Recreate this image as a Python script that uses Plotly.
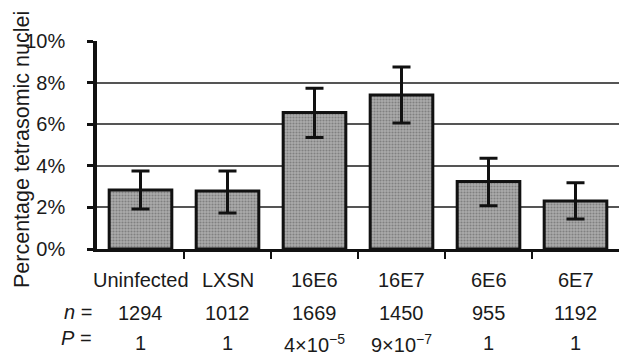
import plotly.graph_objects as go

categories = ["Uninfected", "LXSN", "16E6", "16E7", "6E6", "6E7"]
percent = [2.84, 2.79, 6.56, 7.40, 3.24, 2.31]
err_plus = [0.91, 0.96, 1.17, 1.35, 1.12, 0.88]
err_minus = [0.92, 1.06, 1.20, 1.34, 1.16, 0.87]
n_values = ["1294", "1012", "1669", "1450", "955", "1192"]
p_values = ["1", "1", "4×10<sup>−5</sup>", "9×10<sup>−7</sup>", "1", "1"]
y_ticks = [0, 2, 4, 6, 8, 10]
y_ticktext = ["0%", "2%", "4%", "6%", "8%", "10%"]

FONT = "Liberation Sans, Arial, sans-serif"
TXT = "#1a1a1a"

pos = list(range(len(categories)))
boundaries = [i + 0.5 for i in pos[:-1]]

fig = go.Figure()
fig.add_trace(go.Bar(
    x=pos, y=percent,
    marker=dict(color="#a0a0a0", line=dict(color="#111111", width=3),
                pattern=dict(shape=".", fgcolor="#808080", bgcolor="#ababab",
                             size=3, solidity=0.4, fillmode="replace")),
    error_y=dict(type="data", symmetric=False, array=err_plus, arrayminus=err_minus,
                 color="#111111", thickness=3, width=9),
    showlegend=False, hovertext=categories,
))

def ann(x, yshift, text, xref="x", xanchor="center", xshift=0, size=20):
    return dict(x=x, xref=xref, xshift=xshift, y=0, yref="y", yshift=yshift, text=text,
                showarrow=False, xanchor=xanchor, yanchor="middle",
                font=dict(size=size, color=TXT, family=FONT))

annotations = []
for i, lab, n, p in zip(pos, categories, n_values, p_values):
    annotations.append(ann(i, -31, lab))
    annotations.append(ann(i, -64, n))
    annotations.append(ann(i, -94, p))
annotations.append(ann(0, -63, "<i>n</i> =", xref="paper", xanchor="right", xshift=-3))
annotations.append(ann(0, -89, "<i>P</i> =", xref="paper", xanchor="right", xshift=-3))
annotations.append(dict(x=0, xref="paper", xshift=-75, y=0.5, yref="paper", yshift=-5,
                        text="Percentage tetrasomic nuclei", textangle=-90, showarrow=False,
                        xanchor="center", yanchor="middle",
                        font=dict(size=21.5, color=TXT, family=FONT)))

fig.update_layout(
    width=619, height=355,
    margin=dict(l=97, r=0, t=41, b=106),
    paper_bgcolor="white", plot_bgcolor="white",
    bargap=0.28,
    annotations=annotations,
    font=dict(family=FONT, color=TXT),
)
fig.update_xaxes(
    range=[-0.5, 5.5], tickvals=boundaries, showticklabels=False, ticks="outside",
    ticklen=7, tickwidth=2, tickcolor="#111111",
    showline=True, linecolor="#111111", linewidth=3, showgrid=False, zeroline=False,
)
fig.update_yaxes(
    range=[0, 10], tickvals=y_ticks, ticktext=y_ticktext,
    ticks="outside", ticklen=6, tickwidth=3, tickcolor="#111111",
    ticklabelstandoff=18,
    tickfont=dict(size=20, color=TXT, family=FONT),
    showline=True, linecolor="#111111", linewidth=3.5,
    showgrid=True, gridcolor="#555555", gridwidth=1.5, zeroline=False,
)

fig.write_html("out.html", config={"displayModeBar": False},
               post_script="document.body.style.margin='0';")
